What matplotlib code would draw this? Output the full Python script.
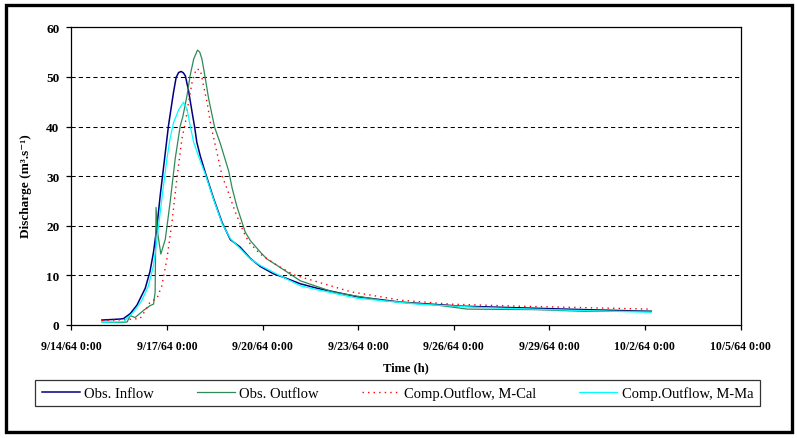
import matplotlib
matplotlib.use("Agg")
from matplotlib import pyplot as plt
from matplotlib.patches import Rectangle
import pandas as pd

# days after 9/14/64 0:00, discharge in m3/s
inflow_t = [0.96, 1.53, 1.64, 1.85, 2.06, 2.32, 2.47, 2.58, 2.69, 2.79, 2.89, 3.05, 3.16,
            3.21, 3.29, 3.37, 3.45, 3.52, 3.58, 3.68, 3.79, 3.87, 3.94, 4.05, 4.20, 4.47, 4.73,
            4.99, 5.30, 5.62, 5.93, 6.35, 6.67, 7.19, 7.72, 8.97, 10.34, 12.22, 14.42, 16.1, 18.2]
inflow_q = [1.0, 1.2, 1.3, 2.3, 4.0, 7.4, 10.8, 14.7, 20.0, 26.1, 31.5, 40.2, 44.9,
            47.0, 49.9, 50.9, 51.1, 50.8, 50.2, 47.2, 42.9, 39.9, 36.8, 34.0, 30.8, 25.4, 20.7,
            17.2, 15.7, 13.4, 11.8, 10.3, 9.6, 8.3, 7.4, 5.7, 4.6, 3.8, 3.4, 3.1, 2.76]

outflow_t = [0.96, 1.53, 1.75, 1.85, 2.00, 2.26, 2.47, 2.58, 2.63, 2.66, 2.70, 2.81, 2.95, 3.10,
             3.26, 3.42, 3.50, 3.63, 3.73, 3.84, 3.96, 4.03, 4.10, 4.20, 4.31, 4.50, 4.68, 4.94,
             5.05, 5.20, 5.46, 5.62, 5.93, 6.14, 6.46, 7.19, 8.24, 9.81, 11.49, 12.43, 14.53,
             16.1, 18.2]
outflow_q = [0.55, 0.5, 0.6, 1.9, 1.5, 2.9, 3.9, 4.2, 6.6, 23.7, 19.0, 14.3, 17.3, 24.7,
             33.5, 40.2, 42.0, 46.2, 50.3, 53.6, 55.4, 55.0, 53.6, 49.9, 45.6, 39.8, 36.5, 31.0,
             27.5, 23.8, 18.7, 17.0, 14.7, 13.3, 12.0, 8.9, 6.6, 4.9, 4.0, 3.2, 3.1,
             2.76, 2.76]

mcal_t = [0.96, 1.79, 1.95, 2.16, 2.32, 2.47, 2.69, 2.84, 3.00, 3.16, 3.31, 3.47, 3.58, 3.68,
          3.79, 3.92, 4.05, 4.15, 4.26, 4.38, 4.57, 4.73, 4.89, 5.15, 5.41, 5.57, 5.72, 5.93,
          6.46, 6.99, 7.72, 8.77, 10.34, 11.91, 14.01, 16.1, 18.2]
mcal_q = [0.9, 1.1, 1.2, 1.3, 2.9, 4.6, 5.4, 7.9, 13.3, 20.7, 29.4, 37.5, 40.8, 44.9,
          48.9, 51.6, 51.4, 48.2, 44.9, 40.2, 34.8, 30.1, 27.4, 22.7, 18.7, 16.7, 15.7, 14.3,
          12.0, 10.1, 8.7, 6.7, 5.0, 4.2, 3.8, 3.5, 3.2]

mma_t = [0.96, 1.64, 1.95, 2.21, 2.42, 2.58, 2.69, 2.84, 3.00, 3.10, 3.21, 3.37, 3.52, 3.63,
         3.73, 3.84, 4.05, 4.20, 4.47, 4.73, 4.99, 5.30, 5.62, 5.93, 6.56, 7.19, 7.72, 8.97,
         10.86, 12.96, 15.05, 18.2]
mma_q = [0.55, 0.65, 2.6, 4.9, 7.9, 12.0, 17.3, 25.4, 33.5, 37.6, 40.8, 43.4, 44.9, 43.5,
         40.2, 36.8, 33.0, 30.5, 25.2, 20.5, 17.4, 15.4, 13.3, 12.0, 9.9, 7.9, 7.1, 5.4,
         4.2, 3.5, 3.1, 2.55]

tick_days = [0, 3, 6, 9, 12, 15, 18, 21]
yticks = [0, 10, 20, 30, 40, 50, 60]

start = pd.Timestamp("1964-09-14")
def to_dates(days):
    return start + pd.to_timedelta(days, unit="D")

serif = ["Liberation Serif", "DejaVu Serif"]

fig = plt.figure(figsize=(7.97, 4.39), dpi=100)
ax = fig.add_axes([71.3 / 797, 1 - 326 / 439, (740.5 - 71.3) / 797, (326 - 28.3) / 439])

for y in yticks[1:-1]:
    ax.axhline(y, color="black", lw=0.75, ls=(0, (4, 3)), zorder=1)

ax.plot(to_dates(inflow_t), inflow_q, color="#000080", lw=1.1, label="Obs. Inflow", zorder=3)
ax.plot(to_dates(outflow_t), outflow_q, color="#2E8B57", lw=0.9, label="Obs. Outflow", zorder=3)
ax.plot(to_dates(mcal_t), mcal_q, color="#FF0000", lw=1.0, ls=(0, (1, 3)),
        label="Comp.Outflow, M-Cal", zorder=3)
ax.plot(to_dates(mma_t), mma_q, color="#00FFFF", lw=0.9, label="Comp.Outflow, M-Ma", zorder=4)

ax.set_xlim(to_dates(0), to_dates(21))
ax.set_ylim(0, 60)
ax.set_yticks(yticks)
ticks = to_dates(tick_days)
ax.set_xticks(ticks)
ax.set_xticklabels([f"{d.month}/{d.day}/{d:%y} 0:00" for d in ticks])

for s in ax.spines.values():
    s.set_linewidth(0.9)
ax.tick_params(direction="out", length=3.5, width=0.9)
ax.tick_params(axis="x", pad=7)
ax.tick_params(axis="y", pad=5)
for lab in ax.get_xticklabels():
    lab.set_family(serif)
    lab.set_fontweight("bold")
    lab.set_fontsize(8.5)
for lab in ax.get_yticklabels():
    lab.set_family(serif)
    lab.set_fontweight("bold")
    lab.set_fontsize(9.5)

ax.set_ylabel("Discharge (m³.s⁻¹)", family=serif, fontweight="bold", fontsize=9.5)
ax.yaxis.set_label_coords(-0.058, 0.47)
ax.set_xlabel("Time (h)", family=serif, fontweight="bold", fontsize=9, labelpad=7)

leg = fig.legend(loc="center", bbox_to_anchor=(0.4987, 1 - 394 / 439), ncol=4,
                 prop={"family": serif, "size": 10.5}, frameon=True, fancybox=False,
                 edgecolor="black", handlelength=2.6, columnspacing=2.95, handletextpad=0.3,
                 borderpad=0.45)
leg.get_frame().set_linewidth(0.9)

fig.patches.append(Rectangle((5.5 / 797, 1 - 432.5 / 439), (791.5 - 5.5) / 797, (432.5 - 6) / 439,
                             transform=fig.transFigure, fill=False, edgecolor="black", lw=2.4))

fig.savefig("out.png", dpi=100)
